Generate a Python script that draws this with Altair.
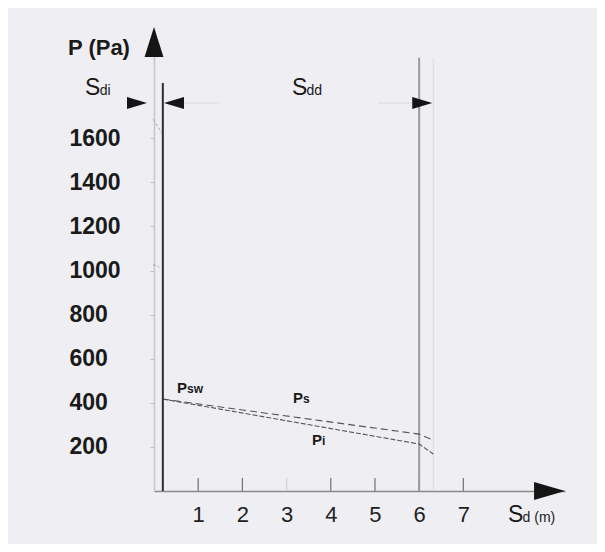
import altair as alt
import pandas as pd

# ---- data ----
x_ticks = [1, 2, 3, 4, 5, 6, 7]
y_ticks = [200, 400, 600, 800, 1000, 1200, 1400, 1600]

ps_x = [0.2, 6.0, 6.32]
ps_y = [417, 258, 231]
pi_x = [0.2, 6.0, 6.32]
pi_y = [417, 213, 168]

# faint short traces near the P axis
trace_a_x = [-0.02, 0.18]
trace_a_y = [1686, 1623]
trace_b_x = [-0.02, 0.12]
trace_b_y = [1027, 1016]

sdi_left = 0.0
sdi_right = 0.2
sdd_right = 6.0
sdd_edge = 6.32

FONT = "Liberation Sans"
XD = [0, 9.3]
YD = [0, 2100]


def X(f="x"):
    return alt.X(f"{f}:Q", scale=alt.Scale(domain=XD, nice=False, zero=False),
                 axis=alt.Axis(values=x_ticks, title=None, ticks=False, tickSize=0,
                               domainColor="#8a8a8a", domainWidth=1.6, grid=False,
                               labelFont=FONT, labelFontSize=22, labelColor="#222222",
                               labelPadding=13, labelFlush=False, labelOverlap=False))


def Y(f="y"):
    return alt.Y(f"{f}:Q", scale=alt.Scale(domain=YD, nice=False, zero=False),
                 axis=alt.Axis(values=y_ticks, title=None, ticks=True, tickSize=4,
                               format="d",
                               tickColor="#bdbdc2", domainColor="#c8c8cd", domainWidth=1.6,
                               grid=False, labelFont=FONT, labelFontSize=23,
                               labelFontWeight="bold", labelColor="#1a1a1a",
                               labelAlign="left", labelPadding=81, labelOverlap=False))


ps_line = alt.Chart(pd.DataFrame({"x": ps_x, "y": ps_y})).mark_line(
    color="#555555", strokeWidth=1.1, strokeDash=[7, 4]).encode(x=X(), y=Y())
pi_line = alt.Chart(pd.DataFrame({"x": pi_x, "y": pi_y})).mark_line(
    color="#555555", strokeWidth=1.1, strokeDash=[5, 2]).encode(x=X(), y=Y())

trace_a = alt.Chart(pd.DataFrame({"x": trace_a_x, "y": trace_a_y})).mark_line(
    color="#a8a8ae", strokeWidth=1, strokeDash=[3, 2]).encode(x=X(), y=Y())
trace_b = alt.Chart(pd.DataFrame({"x": trace_b_x, "y": trace_b_y})).mark_line(
    color="#a8a8ae", strokeWidth=1, strokeDash=[3, 2]).encode(x=X(), y=Y())

# x ticks pointing up into the plot
ticks_df = pd.DataFrame({"x": x_ticks, "y": [0] * len(x_ticks), "y2": [59] * len(x_ticks)})
ticks = alt.Chart(ticks_df).mark_rule(strokeWidth=1.3).encode(
    x=X(), y=Y(), y2="y2:Q",
    color=alt.condition(alt.datum.x == 3, alt.value("#d4d4d8"), alt.value("#7a7a7a")))

# vertical boundary lines
v1 = alt.Chart(pd.DataFrame({"x": [sdi_right], "y": [0], "y2": [1850]})).mark_rule(
    color="#2e2e2e", strokeWidth=2).encode(x=X(), y=Y(), y2="y2:Q")
v2 = alt.Chart(pd.DataFrame({"x": [sdd_right], "y": [0], "y2": [1965]})).mark_rule(
    color="#9a9a9a", strokeWidth=2).encode(x=X(), y=Y(), y2="y2:Q")
v3 = alt.Chart(pd.DataFrame({"x": [sdd_edge], "y": [0], "y2": [1965]})).mark_rule(
    color="#dcdce0", strokeWidth=1).encode(x=X(), y=Y(), y2="y2:Q")

# faint dimension lines
h_df = pd.DataFrame({"x": [0.68, 5.07], "x2": [1.49, 5.84], "y": [1760, 1760]})
hlines = alt.Chart(h_df).mark_rule(color="#dadade", strokeWidth=1).encode(
    x=X(), x2="x2:Q", y=Y())


# arrow heads
def arrow(x, y, path, size):
    return alt.Chart(pd.DataFrame({"x": [x], "y": [y]})).mark_point(
        shape=path, size=size, filled=True, opacity=1, color="#151515",
        strokeWidth=0).encode(x=X(), y=Y())


up = "M 0 -1 L 0.63 1 L -0.63 1 Z"
right = "M 1 0 L -1 -0.6 L -1 0.6 Z"
left = "M -1 0 L 1 -0.6 L 1 0.6 Z"
right_big = "M 1 0 L -1 -0.58 L -1 0.58 Z"

arrows = [
    arrow(sdi_left, 2036, up, 900),
    arrow(8.95, 0, right_big, 961),
    arrow(-0.385, 1760, right, 400),
    arrow(0.452, 1760, left, 400),
    arrow(6.07, 1760, right, 400),
]


# texts
def txt(x, y, s, size, weight="normal"):
    return alt.Chart(pd.DataFrame({"x": [x], "y": [y], "t": [s]})).mark_text(
        align="left", baseline="alphabetic", font=FONT, fontSize=size,
        fontWeight=weight, color="#1a1a1a").encode(x=X(), y=Y(), text="t:N")


texts = [
    txt(-1.946, 1977, "P (Pa)", 22, "bold"),
    txt(-1.561, 1796, "S", 23),
    txt(-1.23, 1796, "di", 14),
    txt(3.122, 1796, "S", 23),
    txt(3.45, 1796, "dd", 14),
    txt(8.009, -141, "S", 23),
    txt(8.34, -141, "d (m)", 14),
    txt(0.52, 444, "P", 15, "bold"),
    txt(0.747, 444, "sw", 12, "bold"),
    txt(3.145, 399, "P", 15, "bold"),
    txt(3.37, 399, "s", 12, "bold"),
    txt(3.575, 209, "P", 15, "bold"),
    txt(3.80, 209, "i", 12, "bold"),
]

chart = alt.layer(
    ticks, v3, v2, hlines, trace_a, trace_b, ps_line, pi_line, v1,
    *arrows, *texts
).properties(
    width=411, height=463,
    autosize=alt.AutoSizeParams(type="none"),
    padding={"left": 146, "top": 20, "right": 32, "bottom": 53},
).configure(background="#efeff3").configure_view(stroke=None)

chart.save("out.html", embed_options={"renderer": "svg", "actions": False})
